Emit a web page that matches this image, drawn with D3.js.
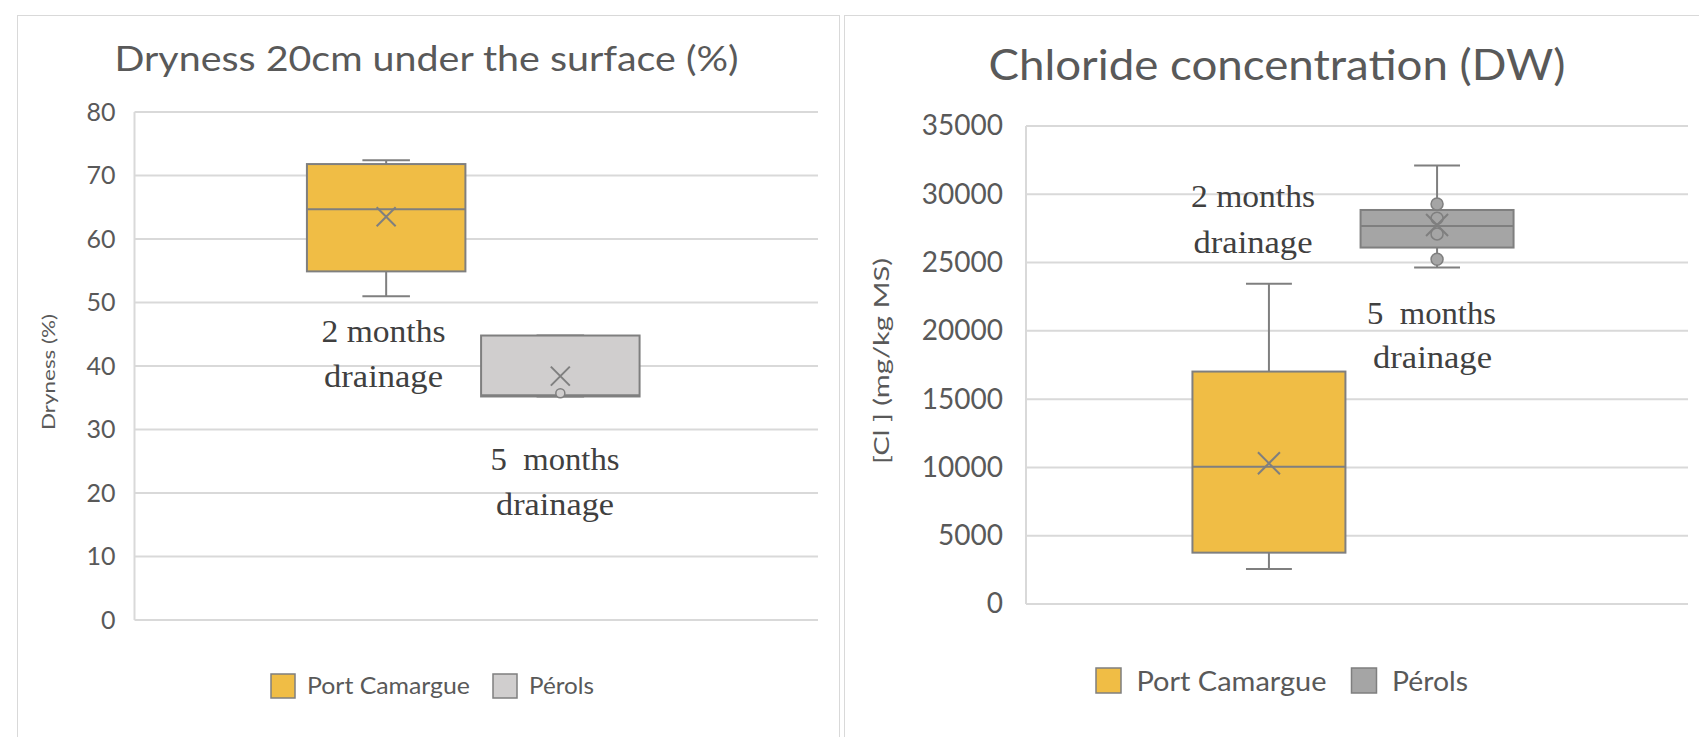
<!DOCTYPE html>
<html>
<head>
<meta charset="utf-8">
<script src="https://cdn.jsdelivr.net/npm/d3@7"></script>
<style>
  html, body { margin: 0; padding: 0; background: #fff; }
  svg { display: block; }
  .tick text { fill: #595959; font-family: Lato, "Open Sans", sans-serif; }
</style>
</head>
<body>
<svg id="chart" width="1699" height="737"></svg>
<script>
"use strict";

// series
const seriesNames = ["Port Camargue", "Pérols"];

// Dryness 20cm under the surface: [min, q1, median, q3, max]
const dryPortCamargue = [51.0, 54.9, 64.7, 71.8, 72.4];
const dryPerols = [35.2, 35.2, 35.4, 44.8, 44.8];
const dryMeans = [63.5, 38.4];
const dryPointsPortCamargue = [];
const dryPointsPerols = [35.7];
const dryTicks = [0, 10, 20, 30, 40, 50, 60, 70, 80];

// Chloride concentration: [min, q1, median, q3, max]
const clPortCamargue = [2560, 3760, 10050, 17020, 23450];
const clPerols = [24630, 26100, 27680, 28850, 32110];
const clMeans = [10300, 27750];
const clPointsPortCamargue = [];
const clPointsPerols = [29290, 28240, 27100, 25240];
const clTicks = [0, 5000, 10000, 15000, 20000, 25000, 30000, 35000];

const svg = d3.select("#chart");
const strokeGrey = "#7f7f7f";
const gridGrey = "#d9d9d9";
const sans = "Lato, 'Open Sans', sans-serif";
const serif = "'Liberation Serif', 'DejaVu Serif', serif";

// stretch a text to the width it has in the reference
const fit = (sel, w) =>
  sel.attr("textLength", w).attr("lengthAdjust", "spacingAndGlyphs");

function drawChart(cfg) {
  const g = svg.append("g").attr("class", "panel");

  // panel frame
  g.append("rect")
    .attr("x", cfg.frame[0] + 0.5)
    .attr("y", cfg.frame[1] + 0.5)
    .attr("width", cfg.frame[2])
    .attr("height", cfg.frame[3])
    .attr("fill", "#fff")
    .attr("stroke", gridGrey);

  g.append("text")
    .attr("x", cfg.title.x)
    .attr("y", cfg.title.y)
    .attr("text-anchor", "middle")
    .attr("fill", "#595959")
    .style("font-family", sans)
    .style("font-size", cfg.title.size + "px")
    .text(cfg.title.text)
    .call(fit, cfg.title.width);

  const y = d3.scaleLinear().domain(cfg.domain).range([cfg.plot.bottom, cfg.plot.top]);
  const x = d3
    .scaleBand()
    .domain(seriesNames)
    .range([cfg.plot.left, cfg.plot.right - cfg.plot.shift])
    .paddingInner(0.09)
    .paddingOuter(0.99);

  // gridlines
  g.append("g")
    .selectAll("line")
    .data(cfg.ticks)
    .join("line")
    .attr("x1", cfg.plot.left)
    .attr("x2", cfg.plot.right)
    .attr("y1", (d) => y(d))
    .attr("y2", (d) => y(d))
    .attr("stroke", gridGrey)
    .attr("stroke-width", 2);

  g.append("line")
    .attr("x1", cfg.plot.left)
    .attr("x2", cfg.plot.left)
    .attr("y1", cfg.plot.top)
    .attr("y2", cfg.plot.bottom)
    .attr("stroke", gridGrey)
    .attr("stroke-width", 2);

  const axis = g
    .append("g")
    .attr("transform", `translate(${cfg.plot.left},0)`)
    .call(
      d3.axisLeft(y).tickValues(cfg.ticks).tickSize(0)
        .tickPadding(cfg.tickPad).tickFormat(d3.format("d"))
    );
  axis.select(".domain").remove();
  axis.selectAll("text").style("font-size", cfg.tickSize + "px");

  // y axis title
  g.append("text")
    .attr("transform", `translate(${cfg.yTitle.x},${cfg.yTitle.y}) rotate(-90)`)
    .attr("text-anchor", "middle")
    .attr("fill", "#595959")
    .style("font-family", sans)
    .style("font-size", cfg.yTitle.size + "px")
    .text(cfg.yTitle.text)
    .call(fit, cfg.yTitle.width);

  // boxes
  const boxes = seriesNames.map((name, i) => ({
    name,
    stats: cfg.stats[i],
    mean: cfg.means[i],
    points: cfg.points[i],
    fill: cfg.colors[i],
  }));

  const bw = x.bandwidth();
  const capW = bw * 0.3;
  const box = g
    .append("g")
    .selectAll("g")
    .data(boxes)
    .join("g")
    .attr("transform", (d) => `translate(${x(d.name)},0)`);

  const line = (sel, x1, x2, y1, y2) =>
    sel.append("line")
      .attr("x1", x1).attr("x2", x2).attr("y1", y1).attr("y2", y2)
      .attr("stroke", strokeGrey).attr("stroke-width", 2);

  box.each(function (d) {
    const b = d3.select(this);
    const [mn, q1, md, q3, mx] = d.stats;
    const c = bw / 2;
    line(b, c, c, y(q3), y(mx));
    line(b, c, c, y(q1), y(mn));
    line(b, c - capW / 2, c + capW / 2, y(mx), y(mx));
    line(b, c - capW / 2, c + capW / 2, y(mn), y(mn));
    b.append("rect")
      .attr("x", 0)
      .attr("y", y(q3))
      .attr("width", bw)
      .attr("height", y(q1) - y(q3))
      .attr("fill", d.fill)
      .attr("stroke", strokeGrey)
      .attr("stroke-width", 2);
    line(b, 0, bw, y(md), y(md));
    b.selectAll("circle")
      .data(d.points)
      .join("circle")
      .attr("cx", c)
      .attr("cy", (p) => y(p))
      .attr("r", cfg.pointR)
      .attr("fill", d.fill)
      .attr("stroke", strokeGrey)
      .attr("stroke-width", 1.5);
    const m = cfg.meanSize;
    const my = y(d.mean);
    b.append("path")
      .attr("d", `M${c - m},${my - m}L${c + m},${my + m}M${c - m},${my + m}L${c + m},${my - m}`)
      .attr("stroke", strokeGrey)
      .attr("stroke-width", 2)
      .attr("fill", "none");
  });

  // drainage notes
  g.append("g")
    .selectAll("text")
    .data(cfg.notes)
    .join("text")
    .attr("x", (d) => d.x)
    .attr("y", (d) => d.y)
    .attr("text-anchor", "middle")
    .attr("fill", "#404040")
    .style("font-family", serif)
    .style("font-size", "31px")
    .style("white-space", "pre")
    .attr("xml:space", "preserve")
    .text((d) => d.text)
    .each(function (d) { d3.select(this).call(fit, d.w); });

  // legend
  const lg = cfg.legend;
  let lx = lg.x;
  seriesNames.forEach((name, i) => {
    g.append("rect")
      .attr("x", lx)
      .attr("y", lg.y)
      .attr("width", lg.box)
      .attr("height", lg.box)
      .attr("fill", cfg.colors[i])
      .attr("stroke", strokeGrey)
      .attr("stroke-width", 1.5);
    lx += lg.box + lg.gap;
    g.append("text")
      .attr("x", lx)
      .attr("y", lg.baseline)
      .attr("fill", "#595959")
      .style("font-family", sans)
      .style("font-size", lg.size + "px")
      .text(name)
      .call(fit, lg.widths[i]);
    lx += lg.widths[i] + lg.itemGap;
  });
}

drawChart({
  frame: [17, 15, 822, 740],
  title: { text: "Dryness 20cm under the surface (%)", x: 426.5, y: 71, size: 35, width: 624 },
  domain: [0, 80],
  ticks: dryTicks,
  tickSize: 25,
  tickPad: 19,
  plot: { left: 134.5, right: 818, top: 112, bottom: 620, shift: 6 },
  yTitle: { text: "Dryness (%)", x: 55, y: 372, size: 18, width: 116 },
  stats: [dryPortCamargue, dryPerols],
  means: dryMeans,
  points: [dryPointsPortCamargue, dryPointsPerols],
  colors: ["#f0bd45", "#d0cece"],
  pointR: 4.5,
  meanSize: 9.5,
  notes: [
    { text: "2 months", x: 383.5, y: 342, w: 124 },
    { text: "drainage", x: 383.5, y: 387, w: 119 },
    { text: "5  months", x: 555, y: 470, w: 129 },
    { text: "drainage", x: 555, y: 515, w: 118 },
  ],
  legend: { x: 271, y: 674, box: 24, gap: 12, itemGap: 23, baseline: 693.5, size: 23, widths: [163, 65] },
});

drawChart({
  frame: [844, 15, 870, 740],
  title: { text: "Chloride concentration (DW)", x: 1277, y: 80, size: 42, width: 577 },
  domain: [0, 35000],
  ticks: clTicks,
  tickSize: 28,
  tickPad: 23,
  plot: { left: 1026, right: 1688, top: 126, bottom: 604, shift: 8 },
  yTitle: { text: "[Cl ] (mg/kg MS)", x: 889, y: 361, size: 22, width: 206 },
  stats: [clPortCamargue, clPerols],
  means: clMeans,
  points: [clPointsPortCamargue, clPointsPerols],
  colors: ["#f0bd45", "#a5a5a5"],
  pointR: 6,
  meanSize: 11,
  notes: [
    { text: "2 months", x: 1253, y: 207, w: 124 },
    { text: "drainage", x: 1253, y: 253, w: 119 },
    { text: "5  months", x: 1431.5, y: 324, w: 129 },
    { text: "drainage", x: 1432.5, y: 368, w: 119 },
  ],
  legend: { x: 1096, y: 668, box: 25, gap: 15.5, itemGap: 25, baseline: 691, size: 26, widths: [190, 76] },
});
</script>
</body>
</html>
